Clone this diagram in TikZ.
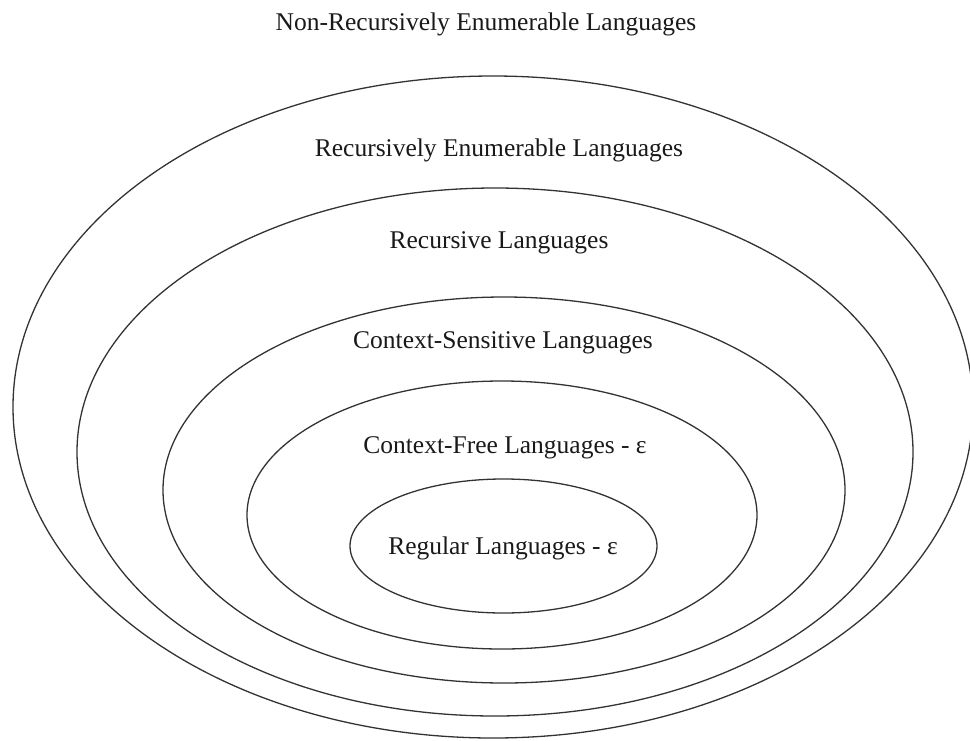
\documentclass[tikz,border=0pt]{standalone}
\usepackage{fontspec}
\setmainfont{Liberation Serif}
\usetikzlibrary{shapes.geometric}
\begin{document}
\begin{tikzpicture}[x=1pt,y=-1pt,
  setring/.style={draw=black!80, line width=1.3pt, ellipse, inner sep=0pt, outer sep=0pt},
  lbl/.style={font=\fontsize{25.5}{30}\selectfont, anchor=base, inner sep=0pt, text=black!90}]
\useasboundingbox (0,0) rectangle (970,740);
\node[setring, minimum width=960pt, minimum height=662pt] (re) at (493,407) {};
\node[setring, minimum width=836pt, minimum height=528pt] (rec) at (495,452) {};
\node[setring, minimum width=682pt, minimum height=386pt] (cs) at (504,490) {};
\node[setring, minimum width=510pt, minimum height=268pt] (cf) at (502,515) {};
\node[setring, minimum width=307pt, minimum height=134pt] (reg) at (503.5,546) {};
\node[lbl] (tnre) at (486,30) {Non-Recursively Enumerable Languages};
\node[lbl] (tre) at (499,156) {Recursively Enumerable Languages};
\node[lbl] (trec) at (499,248) {Recursive Languages};
\node[lbl] (tcs) at (503,348) {Context-Sensitive Languages};
\node[lbl] (tcf) at (505,453) {Context-Free Languages - ε};
\node[lbl] (treg) at (503,554) {Regular Languages - ε};
\end{tikzpicture}
\end{document}
